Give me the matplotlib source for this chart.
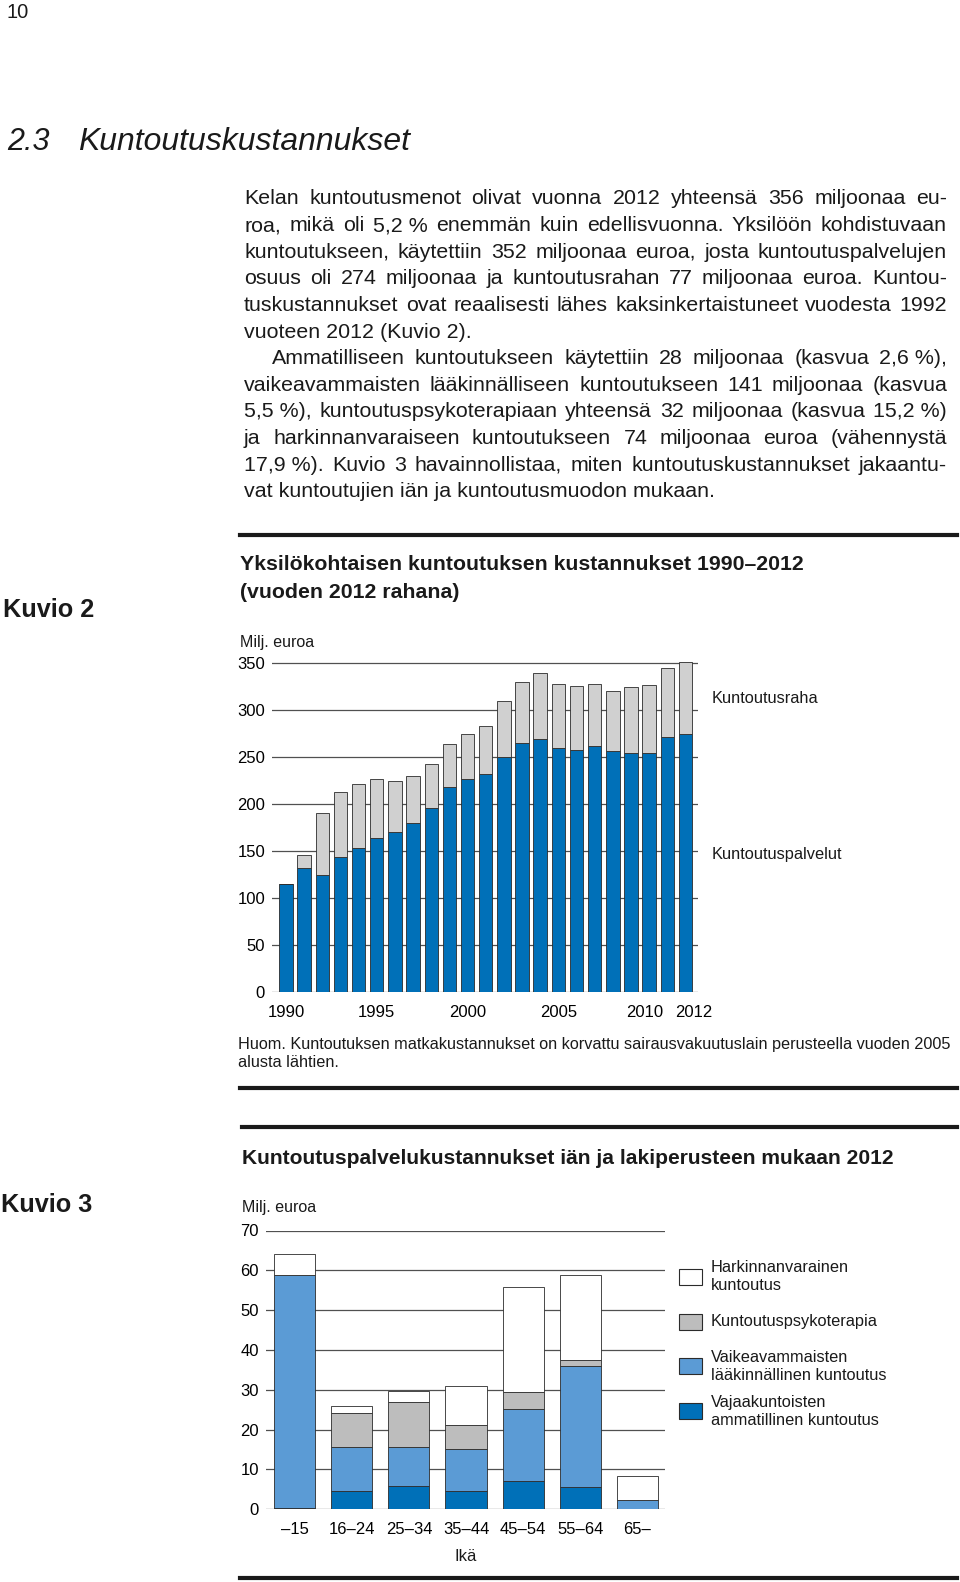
import matplotlib
matplotlib.use('Agg')
import matplotlib.pyplot as plt
from matplotlib.patches import Rectangle
from matplotlib.lines import Line2D
from matplotlib.transforms import ScaledTranslation
import numpy as np

plt.rcParams['font.family'] = 'Liberation Sans'
plt.rcParams['text.color'] = '#1a1a1a'

# Kuvio 2: milj. euroa, vuoden 2012 rahana
years = list(range(1990, 2013))
palvelut = [115, 132, 124, 143, 153, 164, 170, 180, 196, 218, 226, 232,
            250, 265, 269, 259, 257, 262, 256, 254, 254, 271, 274]
raha = [0, 14, 66, 70, 68, 63, 54, 50, 46, 46, 48, 51,
        59, 65, 70, 69, 69, 66, 64, 70, 73, 74, 77]
year_ticks = [1990, 1995, 2000, 2005, 2010, 2012]

# Kuvio 3: milj. euroa iän mukaan
ages = ['–15', '16–24', '25–34', '35–44', '45–54', '55–64', '65–']
ammatillinen = [0.3, 4.5, 5.9, 4.7, 7.0, 5.5, 0.1]
laakinnallinen = [58.6, 11.2, 9.7, 10.4, 18.1, 30.4, 2.3]
psykoterapia = [0, 8.6, 11.4, 6.0, 4.3, 1.5, 0]
harkinnanvarainen = [5.3, 1.7, 2.8, 9.8, 26.4, 21.5, 5.9]
legend_labels = ['Harkinnanvarainen\nkuntoutus', 'Kuntoutuspsykoterapia',
                 'Vaikeavammaisten\nlääkinnällinen kuntoutus',
                 'Vajaakuntoisten\nammatillinen kuntoutus']

nb = '\u00a0'
body = [
    "Kelan kuntoutusmenot olivat vuonna 2012 yhteensä 356 miljoonaa eu-",
    "roa, mikä oli 5,2" + nb + "% enemmän kuin edellisvuonna. Yksilöön kohdistuvaan",
    "kuntoutukseen, käytettiin 352 miljoonaa euroa, josta kuntoutuspalvelujen",
    "osuus oli 274 miljoonaa ja kuntoutusrahan 77 miljoonaa euroa. Kuntou-",
    "tuskustannukset ovat reaalisesti lähes kaksinkertaistuneet vuodesta 1992",
    "vuoteen 2012 (Kuvio 2).",
    "Ammatilliseen kuntoutukseen käytettiin 28 miljoonaa (kasvua 2,6" + nb + "%),",
    "vaikeavammaisten lääkinnälliseen kuntoutukseen 141 miljoonaa (kasvua",
    "5,5" + nb + "%), kuntoutuspsykoterapiaan yhteensä 32 miljoonaa (kasvua 15,2" + nb + "%)",
    "ja harkinnanvaraiseen kuntoutukseen 74 miljoonaa euroa (vähennystä",
    "17,9" + nb + "%). Kuvio 3 havainnollistaa, miten kuntoutuskustannukset jakaantu-",
    "vat kuntoutujien iän ja kuntoutusmuodon mukaan.",
]
last_lines = (5, 11)
indented = (6,)
note = ["Huom. Kuntoutuksen matkakustannukset on korvattu sairausvakuutuslain perusteella vuoden 2005",
        "alusta lähtien."]

blue = '#0070b8'
light = '#5b9bd5'
grey1 = '#d0d0d0'
grey2 = '#bdbdbd'
edge = '#2b2b2b'
grid = '#505050'

W, H = 960, 1582
fig = plt.figure(figsize=(9.6, 15.82), dpi=100)
renderer = fig.canvas.get_renderer()


def fx(x):
    return x / W


def fy(y):
    return 1 - y / H


def put(x, y, s, size, **kw):
    return fig.text(fx(x), fy(y), s, fontsize=size, va='center_baseline', **kw)


def width(t):
    return t.get_window_extent(renderer).width


def fit(t, w):
    t.set_fontsize(t.get_fontsize() * w / width(t))


def justify(line, x0, x1, y, size):
    words = line.split(' ')
    ts = [put(x0, y, w, size) for w in words]
    ws = [width(t) for t in ts]
    gap = (x1 - x0 - sum(ws)) / max(len(words) - 1, 1)
    x = x0
    for t, w in zip(ts, ws):
        t.set_x(fx(x))
        x += w + gap


def axes_px(left, top, right, bottom):
    return fig.add_axes([left / W, 1 - bottom / H, (right - left) / W, (bottom - top) / H])


def hrule(x0, x1, y, lw=3):
    fig.add_artist(Line2D([fx(x0), fx(x1)], [fy(y), fy(y)], lw=lw, color='#1a1a1a'))


# page header and body text
put(7, 11, "10", 14.5)
put(7, 138, "2.3", 22, style='italic')
t = put(78, 138, "Kuntoutuskustannukset", 22, style='italic')
fit(t, 332)

x_left, x_right = 244, 947
# largest size at which every justified line still fits
ratio = 0
for i, line in enumerate(body):
    if i in last_lines:
        continue
    x0 = 272 if i in indented else x_left
    probe = put(0, 0, line, 15)
    ratio = max(ratio, (width(probe) + 6) / (x_right - x0))
    probe.remove()
body_size = min(16.5, 15 / ratio)

y = 197
for i, line in enumerate(body):
    x0 = 272 if i in indented else x_left
    if i in last_lines:
        put(x0, y, line, body_size)
    else:
        justify(line, x0, x_right, y, body_size)
    y += 26.6

# Kuvio 2
hrule(240, 957, 535)
t = put(3, 608, "Kuvio 2", 18, weight='bold')
fit(t, 91)
t = put(240, 562, "Yksilökohtaisen kuntoutuksen kustannukset 1990–2012", 14, weight='bold')
fit(t, 564)
put(240, 590, "(vuoden 2012 rahana)", t.get_fontsize(), weight='bold')
put(240, 641, "Milj. euroa", 11.5)

ax1 = axes_px(272, 653.6, 698, 991.7)
for v in range(0, 351, 50):
    ax1.axhline(v, color=grid, lw=0.9, zorder=0)
ax1.bar(years, palvelut, 0.74, color=blue, edgecolor=edge, lw=0.6, zorder=2)
ax1.bar(years, raha, 0.74, bottom=palvelut, color=grey1, edgecolor=edge, lw=0.6, zorder=2)
ax1.set_xlim(1989.23, 2012.69)
ax1.set_ylim(0, 360)
ax1.set_yticks(range(0, 351, 50))
ax1.set_xticks(year_ticks)
ax1.tick_params(length=0, labelsize=12)
ax1.tick_params(axis='x', pad=9.5)
ax1.tick_params(axis='y', pad=5)
# the last two year labels sit a little apart in the original
labs = ax1.get_xticklabels()
labs[-2].set_transform(labs[-2].get_transform() + ScaledTranslation(-3 / 72, 0, fig.dpi_scale_trans))
labs[-1].set_transform(labs[-1].get_transform() + ScaledTranslation(6 / 72, 0, fig.dpi_scale_trans))
for s in ax1.spines.values():
    s.set_visible(False)
ax1.patch.set_alpha(0)

put(712, 697, "Kuntoutusraha", 11.8)
put(712, 853, "Kuntoutuspalvelut", 11.8)

t = put(238, 1043, note[0], 11)
fit(t, 708)
put(238, 1061, note[1], t.get_fontsize())
hrule(240, 957, 1088)

# Kuvio 3
hrule(242, 957, 1127)
t = put(1, 1203, "Kuvio 3", 18, weight='bold')
fit(t, 91)
t = put(242, 1156, "Kuntoutuspalvelukustannukset iän ja lakiperusteen mukaan 2012", 14, weight='bold')
fit(t, 652)
put(242, 1206, "Milj. euroa", 11.5)

ax2 = axes_px(266, 1230.5, 665, 1509.3)
for v in range(0, 71, 10):
    ax2.axhline(v, color=grid, lw=0.9, zorder=0)
xs = np.arange(len(ages))
b1 = np.array(ammatillinen)
b2 = b1 + np.array(laakinnallinen)
b3 = b2 + np.array(psykoterapia)
ax2.bar(xs, ammatillinen, 0.72, color=blue, edgecolor=edge, lw=0.6, zorder=2)
ax2.bar(xs, laakinnallinen, 0.72, bottom=b1, color=light, edgecolor=edge, lw=0.6, zorder=2)
ax2.bar(xs, psykoterapia, 0.72, bottom=b2, color=grey2, edgecolor=edge, lw=0.6, zorder=2)
ax2.bar(xs, harkinnanvarainen, 0.72, bottom=b3, color='white', edgecolor=edge, lw=0.6, zorder=2)
ax2.set_xlim(-0.503, 6.485)
ax2.set_ylim(0, 70)
ax2.set_yticks(range(0, 71, 10))
ax2.set_xticks(xs)
ax2.set_xticklabels(ages)
ax2.tick_params(length=0, labelsize=12)
ax2.tick_params(axis='x', pad=9.5)
ax2.tick_params(axis='y', pad=5)
for s in ax2.spines.values():
    s.set_visible(False)
ax2.patch.set_alpha(0)
put(466, 1555, "Ikä", 12, ha='center')

legend_colors = ['white', grey2, light, blue]
for i, (lab, c) in enumerate(zip(legend_labels, legend_colors)):
    yc = 1277 + i * 44.7
    fig.add_artist(Rectangle((fx(679), fy(yc + 8)), 23 / W, 16 / H, transform=fig.transFigure,
                             facecolor=c, edgecolor=edge, lw=0.8))
    fig.text(fx(711), fy(yc), lab, fontsize=11.8, va='center', linespacing=1.25)

hrule(240, 957, 1578)

fig.savefig('out.png', dpi=100)
